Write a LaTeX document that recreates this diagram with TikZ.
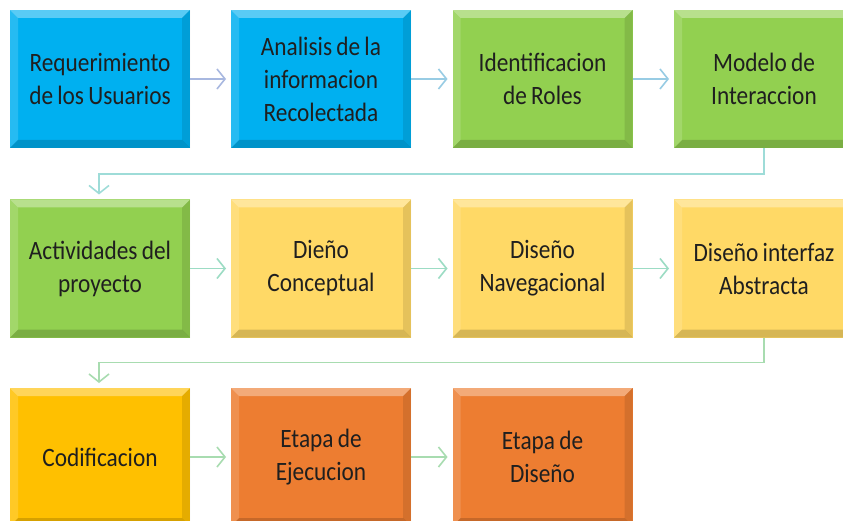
\documentclass[tikz,border=0pt]{standalone}
\usepackage{fontspec}
\setmainfont{Carlito}[FakeStretch=0.88,WordSpace=0.8]
\usetikzlibrary{arrows.meta,calc}
\definecolor{cblue}{HTML}{00B0F0}
\definecolor{cgreen}{HTML}{92D050}
\definecolor{cyellow}{HTML}{FFD966}
\definecolor{camber}{HTML}{FFC000}
\definecolor{corange}{HTML}{ED7D31}
\definecolor{abluep}{HTML}{A8B8E0}
\definecolor{ablue}{HTML}{98CCE4}
\definecolor{ateal}{HTML}{9EDCD8}
\definecolor{atealg}{HTML}{9CDCC4}
\definecolor{agreen}{HTML}{A8DCB0}
\tikzset{
  stepbox/.style={minimum width=180pt, minimum height=138pt, inner sep=0pt, outer sep=0pt,
    align=center, font=\fontsize{26.5pt}{33pt}\selectfont, text=black!88},
  conn/.style={line width=1.6pt, -{Straight Barb[length=8pt,width=20pt,line width=1.6pt]}, shorten >=5pt},
}
\newcommand{\bevel}[1]{%
  \fill[white,opacity=0.35] (#1.north west) -- (#1.north east) -- ($(#1.north east)+(-8pt,-8pt)$) -- ($(#1.north west)+(8pt,-8pt)$) -- cycle;
  \fill[white,opacity=0.15] (#1.north west) -- ($(#1.north west)+(8pt,-8pt)$) -- ($(#1.south west)+(8pt,8pt)$) -- (#1.south west) -- cycle;
  \fill[black,opacity=0.10] (#1.north east) -- (#1.south east) -- ($(#1.south east)+(-8pt,8pt)$) -- ($(#1.north east)+(-8pt,-8pt)$) -- cycle;
  \fill[black,opacity=0.16] (#1.south west) -- (#1.south east) -- ($(#1.south east)+(-8pt,8pt)$) -- ($(#1.south west)+(8pt,8pt)$) -- cycle;
}
\begin{document}
\begin{tikzpicture}
\useasboundingbox (0,0) rectangle (843pt,-521pt);
\clip (0,0) rectangle (843pt,-521pt);
\fill[white] (0,0) rectangle (843pt,-521pt);
% boxes
\node[stepbox, fill=cblue] (n1) at (100pt,-79pt) {};
\node[stepbox, fill=cblue] (n2) at (321pt,-79pt) {};
\node[stepbox, fill=cgreen] (n3) at (542.5pt,-79pt) {};
\node[stepbox, fill=cgreen] (n4) at (764pt,-79pt) {};
\node[stepbox, fill=cgreen] (n5) at (100pt,-268.5pt) {};
\node[stepbox, fill=cyellow] (n6) at (321pt,-268.5pt) {};
\node[stepbox, fill=cyellow] (n7) at (542.5pt,-268.5pt) {};
\node[stepbox, fill=cyellow] (n8) at (764pt,-268.5pt) {};
\node[stepbox, fill=camber] (n9) at (100pt,-457pt) {};
\node[stepbox, fill=corange] (n10) at (321pt,-457pt) {};
\node[stepbox, fill=corange] (n11) at (542.5pt,-457pt) {};
\foreach \n in {n1,n2,n3,n4,n5,n6,n7,n8,n9,n10,n11} {\bevel{\n}}
% labels
\node[stepbox] (t1) at (n1) {Requerimiento\\de los Usuarios};
\node[stepbox] (t2) at (n2) {Analisis de la\\informacion\\Recolectada};
\node[stepbox] (t3) at (n3) {Identificacion\\de Roles};
\node[stepbox] (t4) at (n4) {Modelo de\\Interaccion};
\node[stepbox] (t5) at (n5) {Actividades del\\proyecto};
\node[stepbox] (t6) at (n6) {Dieño\\Conceptual};
\node[stepbox] (t7) at (n7) {Diseño\\Navegacional};
\node[stepbox] (t8) at (n8) {Diseño interfaz\\Abstracta};
\node[stepbox] (t9) at (n9) {Codificacion};
\node[stepbox] (t10) at (n10) {Etapa de\\Ejecucion};
\node[stepbox] (t11) at (n11) {Etapa de\\Diseño};
% connectors
\draw[conn, abluep] (n1) -- (n2);
\draw[conn, ablue] (n2) -- (n3);
\draw[conn, ablue] (n3) -- (n4);
\coordinate (c1) at ($(n4.south)+(0,-26pt)$);
\draw[conn, ateal] (n4.south) -- (c1) -| ([xshift=-1pt]n5.north);
\draw[conn, atealg] (n5) -- (n6);
\draw[conn, atealg] (n6) -- (n7);
\draw[conn, atealg] (n7) -- (n8);
\coordinate (c2) at ($(n8.south)+(0,-25pt)$);
\draw[conn, agreen] (n8.south) -- (c2) -| ([xshift=-1pt]n9.north);
\draw[conn, agreen] (n9) -- (n10);
\draw[conn, agreen] (n10) -- (n11);
\end{tikzpicture}
\end{document}
